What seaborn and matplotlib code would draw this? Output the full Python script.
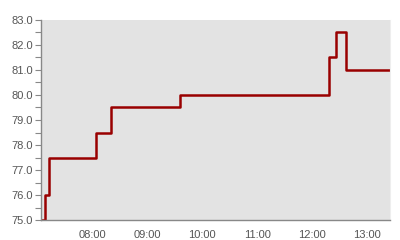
import matplotlib
matplotlib.use("Agg")
import matplotlib.pyplot as plt
import matplotlib.dates as mdates
from matplotlib.ticker import MultipleLocator, FormatStrFormatter
import seaborn as sns
import pandas as pd

times = ["07:04", "07:08", "07:13", "08:04", "08:20", "09:36", "12:18", "12:26", "12:37", "13:25"]
values = [75.0, 76.0, 77.5, 78.5, 79.5, 80.0, 81.5, 82.5, 81.0, 81.0]
y_ticks = [75.0, 76.0, 77.0, 78.0, 79.0, 80.0, 81.0, 82.0, 83.0]

df = pd.DataFrame({"time": pd.to_datetime(["2024-01-01 " + t for t in times]),
                   "value": values})

sns.set_theme(style="white")
plt.rcParams["font.family"] = ["Liberation Sans", "DejaVu Sans"]

fig = plt.figure(figsize=(4, 2.4), dpi=100)
ax = fig.add_axes([0.1025, 0.0833, 0.8725, 0.8334])
ax.set_facecolor("#e3e3e3")

sns.lineplot(data=df, x="time", y="value", ax=ax, color="#990000",
             linewidth=1.8, drawstyle="steps-post")

ax.set_xlim(df["time"].iloc[0], df["time"].iloc[-1])
ax.set_ylim(y_ticks[0], y_ticks[-1])
ax.set_yticks(y_ticks)
ax.yaxis.set_major_formatter(FormatStrFormatter("%.1f"))
ax.yaxis.set_minor_locator(MultipleLocator(0.5))
ax.xaxis.set_major_locator(mdates.HourLocator())
ax.xaxis.set_major_formatter(mdates.DateFormatter("%H:%M"))

ax.set_xlabel("")
ax.set_ylabel("")
ax.spines["top"].set_visible(False)
ax.spines["right"].set_color("#eeeeee")
ax.spines["right"].set_linewidth(0.8)
ax.spines["left"].set_color("#888888")
ax.spines["bottom"].set_color("#888888")
ax.spines["left"].set_linewidth(1)
ax.spines["bottom"].set_linewidth(1)

ax.tick_params(axis="y", which="both", left=True, length=4, width=0.8,
               color="#888888", labelcolor="#555555", labelsize=8, pad=2)
ax.tick_params(axis="x", which="both", bottom=False, length=0,
               labelcolor="#555555", labelsize=8, pad=7.5)

fig.savefig("out.png", dpi=100)
